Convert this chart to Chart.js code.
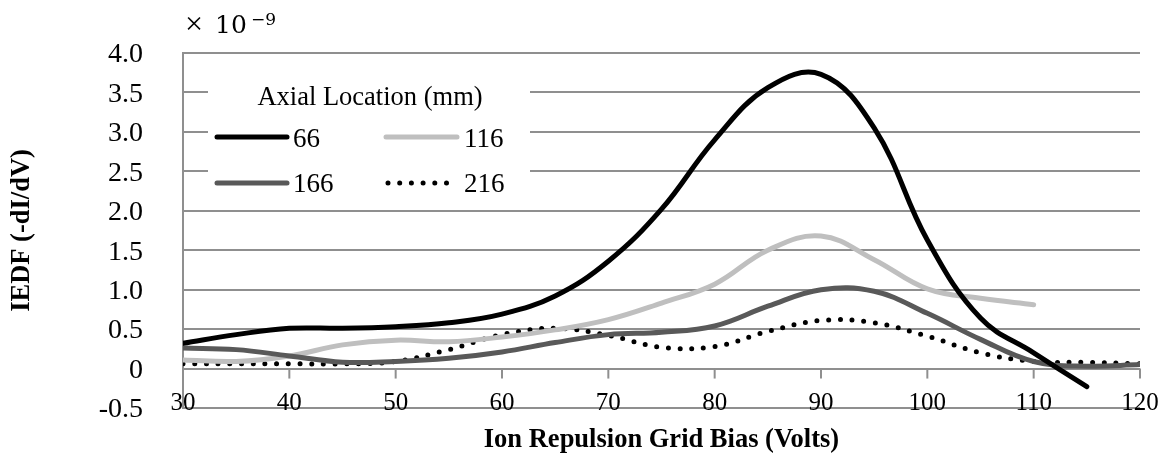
<!DOCTYPE html>
<html>
<head>
<meta charset="utf-8">
<title>IEDF vs Grid Bias</title>
<script src="https://cdn.jsdelivr.net/npm/chart.js@4.4.1/dist/chart.umd.min.js"></script>
<style>
  html, body { margin: 0; padding: 0; background: #fff; }
  canvas { display: block; }
</style>
</head>
<body>
<canvas id="iedfChart" width="1171" height="458"></canvas>
<script>
// Ion repulsion grid bias (V) sample points
const biasVolts = [30, 35, 40, 45, 50, 55, 60, 65, 70, 75, 80, 85, 90, 95, 100, 105, 110, 115, 120];

// IEDF (-dI/dV), in units of 1e-9, per axial location
const iedf66  = [0.32, 0.43, 0.51, 0.51, 0.53, 0.58, 0.69, 0.92, 1.36, 2.02, 2.90, 3.56, 3.73, 3.05, 1.63, 0.64, 0.20, -0.23];
const iedf116 = [0.11, 0.09, 0.16, 0.30, 0.36, 0.34, 0.40, 0.49, 0.62, 0.83, 1.07, 1.50, 1.68, 1.38, 1.01, 0.89, 0.81];
const iedf166 = [0.26, 0.24, 0.16, 0.08, 0.09, 0.13, 0.21, 0.33, 0.43, 0.46, 0.54, 0.79, 1.00, 0.98, 0.70, 0.37, 0.09, 0.03, 0.05];
const iedf216 = [0.06, 0.06, 0.06, 0.06, 0.09, 0.24, 0.43, 0.51, 0.42, 0.27, 0.28, 0.47, 0.61, 0.58, 0.41, 0.20, 0.09, 0.08, 0.06];

const seriesNames = ['66', '116', '166', '216'];
const xTickLabels = ['30', '40', '50', '60', '70', '80', '90', '100', '110', '120'];
const yTickLabels = ['-0.5', '0', '0.5', '1.0', '1.5', '2.0', '2.5', '3.0', '3.5', '4.0'];

const SERIF = '"Liberation Serif", "Times New Roman", serif';
const GRID = '#8f8f8f';

function toPoints(values) {
    return values.map((v, i) => ({ x: biasVolts[i], y: v }));
}

const lineStyles = [
    { color: '#000000', dash: [] },
    { color: '#bfbfbf', dash: [] },
    { color: '#595959', dash: [] },
    { color: '#000000', dash: [0, 11.7] }
];

const datasets = [iedf66, iedf116, iedf166, iedf216].map((vals, i) => ({
    label: seriesNames[i],
    data: toPoints(vals),
    borderColor: lineStyles[i].color,
    borderDash: lineStyles[i].dash,
    borderWidth: 5,
    borderCapStyle: 'round',
    borderJoinStyle: 'round',
    pointRadius: 0,
    tension: 0.4,
    fill: false
}));

// draw order: dotted under the rest, black on top
datasets[0].order = 0;
datasets[1].order = 2;
datasets[2].order = 1;
datasets[3].order = 3;

// bottom gridline, zero-line tick marks, x labels sitting above the
// bottom gridline, legend box and exponent label
const decorPlugin = {
    id: 'decor',
    beforeDatasetsDraw(chart) {
        const { ctx, scales: { x, y } } = chart;
        const y0 = y.getPixelForValue(0);
        const yBottom = y.getPixelForValue(-0.5);
        ctx.save();
        ctx.strokeStyle = GRID;
        ctx.lineWidth = 2;
        ctx.beginPath();
        ctx.moveTo(x.left, yBottom);
        ctx.lineTo(x.right, yBottom);
        ctx.stroke();
        x.ticks.forEach(t => {
            const px = x.getPixelForValue(t.value);
            ctx.beginPath();
            ctx.moveTo(px, y0);
            ctx.lineTo(px, y0 + 10);
            ctx.stroke();
        });

        ctx.fillStyle = '#000';
        ctx.font = '25px ' + SERIF;
        ctx.textAlign = 'center';
        ctx.textBaseline = 'alphabetic';
        x.ticks.forEach((t, i) => {
            ctx.fillText(xTickLabels[i], x.getPixelForValue(t.value), yBottom + 2);
        });
        ctx.restore();
    },
    afterDraw(chart) {
        const { ctx } = chart;
        ctx.save();

        // legend
        ctx.fillStyle = '#fff';
        ctx.fillRect(208, 60, 322, 140);
        ctx.fillStyle = '#000';
        ctx.font = '26.5px ' + SERIF;
        ctx.textAlign = 'center';
        ctx.textBaseline = 'alphabetic';
        ctx.fillText('Axial Location (mm)', 370, 105);

        const slots = [
            { x0: 217, x1: 287, y: 137, tx: 293, ty: 147 },
            { x0: 386, x1: 457, y: 137, tx: 464, ty: 147 },
            { x0: 217, x1: 287, y: 183, tx: 293, ty: 192 },
            { x0: 388, x1: 450, y: 183, tx: 464, ty: 192 }
        ];
        ctx.font = '27px ' + SERIF;
        ctx.textAlign = 'left';
        slots.forEach((s, i) => {
            const st = lineStyles[i];
            ctx.strokeStyle = st.color;
            ctx.lineWidth = 5;
            ctx.lineCap = 'round';
            ctx.setLineDash(st.dash);
            ctx.beginPath();
            ctx.moveTo(s.x0, s.y);
            ctx.lineTo(s.x1, s.y);
            ctx.stroke();
            ctx.setLineDash([]);
            ctx.fillStyle = '#000';
            ctx.fillText(seriesNames[i], s.tx, s.ty);
        });

        // axis multiplier
        ctx.font = '32px ' + SERIF;
        ctx.fillText('\u00d7', 185, 34);
        ctx.font = '25px "DejaVu Serif", serif';
        ctx.fillText('10', 215, 33);
        ctx.font = '17px "DejaVu Serif", serif';
        ctx.fillText('\u22129', 251, 25);

        ctx.restore();
    }
};

new Chart(document.getElementById('iedfChart'), {
    type: 'line',
    data: { datasets },
    options: {
        responsive: false,
        animation: false,
        layout: { padding: { top: 53, right: 31, left: 0, bottom: 0 } },
        plugins: {
            legend: { display: false },
            tooltip: { enabled: false }
        },
        scales: {
            x: {
                type: 'linear',
                min: 30,
                max: 120,
                afterFit: s => {
                    s.height = 50;
                    s.paddingLeft = 0;
                    s.paddingRight = 0;
                },
                grid: { display: false, drawTicks: false },
                border: { display: false },
                ticks: { stepSize: 10, display: false },
                title: {
                    display: true,
                    text: 'Ion Repulsion Grid Bias (Volts)',
                    color: '#000',
                    font: { family: SERIF, size: 26.5, weight: 'bold' },
                    padding: { top: 0, bottom: 2 }
                }
            },
            y: {
                min: -0.5,
                max: 4,
                afterFit: s => {
                    s.width = 183;
                    s.paddingTop = 0;
                    s.paddingBottom = 0;
                },
                grid: { color: GRID, lineWidth: 2, drawTicks: false },
                border: { display: true, color: GRID, width: 2 },
                ticks: {
                    stepSize: 0.5,
                    padding: 40,
                    labelOffset: 2,
                    color: '#000',
                    font: { family: SERIF, size: 28 },
                    callback: (v, i) => yTickLabels[i]
                },
                title: {
                    display: true,
                    text: 'IEDF (-dI/dV)',
                    color: '#000',
                    font: { family: SERIF, size: 26.5, weight: 'bold' },
                    padding: { top: 6, bottom: 0 }
                }
            }
        }
    },
    plugins: [decorPlugin]
});
</script>
</body>
</html>
